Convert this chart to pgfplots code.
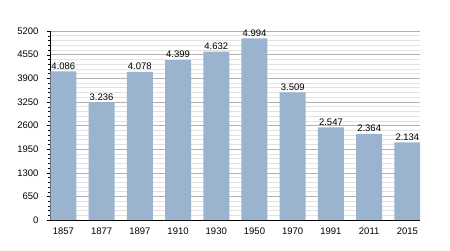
\documentclass[border=0pt]{standalone}
\usepackage{pgfplots}
\pgfplotsset{compat=1.18}
\usepackage{fontspec}
\setmainfont{Liberation Sans}
\definecolor{barblue}{HTML}{9AB3CF}
\definecolor{majgrid}{HTML}{B0B0B0}
\definecolor{mingrid}{HTML}{E2E2E2}
\begin{document}
\begin{tikzpicture}
\useasboundingbox (0,0) rectangle (450pt,250pt);
\begin{axis}[
  at={(50pt,30pt)}, anchor=south west,
  scale only axis, width=370pt, height=189pt,
  xmin=-0.35, xmax=9.33, ymin=0, ymax=5200,
  axis x line*=bottom, axis y line*=left,
  x axis line style={-}, y axis line style={-},
  xtick=data,
  xticklabels={1857,1877,1897,1910,1930,1950,1970,1991,2011,2015},
  ytick={0,650,1300,1950,2600,3250,3900,4550,5200},
  minor y tick num=4,
  tick align=outside,
  major tick length=3pt, minor tick length=2pt,
  xtick style={draw=none},
  ytick style={black},
  ymajorgrids, yminorgrids,
  major grid style={majgrid, line width=0.5pt},
  minor grid style={mingrid, line width=0.5pt},
  tick label style={font=\fontsize{9.5}{11}\selectfont},
  /pgf/number format/assume math mode=true,
  yticklabel style={/pgf/number format/fixed, /pgf/number format/1000 sep={}, xshift=-5pt},
  xticklabel style={yshift=-1pt},
  nodes near coords,
  point meta=explicit symbolic,
  every node near coord/.append style={font=\fontsize{9.5}{11}\selectfont, black, yshift=-1.5pt},
]
\addplot[ybar, bar width=26pt, fill=barblue, draw=none] table[meta=lab] {
x y lab
0 4086 4.086
1 3236 3.236
2 4078 4.078
3 4399 4.399
4 4632 4.632
5 4994 4.994
6 3509 3.509
7 2547 2.547
8 2364 2.364
9 2134 2.134
};
\end{axis}
\end{tikzpicture}
\end{document}
